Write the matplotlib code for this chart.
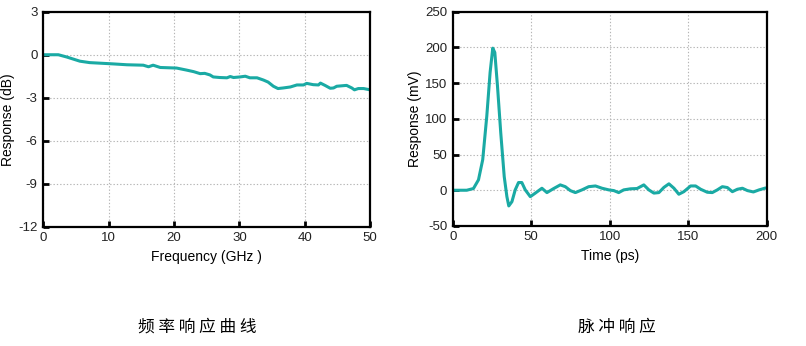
import matplotlib
matplotlib.use('Agg')
import matplotlib.pyplot as plt
import numpy as np

plt.rcParams['font.family'] = ['Liberation Sans', 'DejaVu Sans']
plt.rcParams['axes.unicode_minus'] = False

# frequency response (GHz, dB)
freq = [0, 2.3, 3.6, 5.6, 7.1, 10.7, 12.8, 15.3, 16.1, 16.8, 17.9, 20.4, 21.9, 23.0,
        24.0, 24.7, 25.5, 26.0, 27.0, 28.1, 28.6, 29.1, 30.1, 30.9, 31.6, 32.7, 33.7,
        34.4, 35.2, 35.9, 36.7, 37.8, 38.8, 39.8, 40.3, 41.3, 42.1, 42.4, 43.1, 43.9,
        44.4, 44.9, 46.4, 47.2, 47.6, 48.2, 49.0, 50.0]
resp_db = [0, 0, -0.16, -0.45, -0.55, -0.64, -0.70, -0.73, -0.84, -0.73, -0.89, -0.93,
           -1.07, -1.18, -1.32, -1.30, -1.41, -1.55, -1.59, -1.61, -1.52, -1.59, -1.55,
           -1.50, -1.61, -1.61, -1.77, -1.91, -2.20, -2.36, -2.32, -2.25, -2.11, -2.11,
           -2.00, -2.09, -2.11, -1.98, -2.14, -2.34, -2.32, -2.20, -2.14, -2.32, -2.45,
           -2.36, -2.36, -2.45]

# impulse response (ps, mV)
t_ps = [0, 8.9, 13.2, 16.4, 19.1, 21.7, 23.8, 25.5, 26.8, 28.5, 30.6, 32.8, 34.5, 35.7,
        37.7, 39.8, 41.9, 44.0, 46.2, 49.4, 52.6, 56.8, 60.0, 64.3, 68.5, 71.7, 74.9,
        78.1, 82.3, 86.6, 90.9, 95.1, 99.4, 102.6, 105.7, 108.9, 113.2, 117.4, 121.7,
        124.9, 128.1, 131.3, 134.5, 137.7, 140.9, 144.0, 147.2, 151.5, 154.7, 157.9,
        162.1, 165.3, 168.5, 171.7, 174.9, 178.1, 181.3, 184.5, 187.7, 191.5, 195.1, 198.7]
resp_mv = [0, 0, 2.4, 14.6, 42.8, 104, 165, 199, 193, 146, 80, 19, -9, -22, -16, 0.5,
           10.8, 10.8, 0.5, -9, -4, 2.8, -3.3, 2.4, 7.5, 5, -0.5, -3.3, 0.5, 5, 6, 2.8,
           0.5, -0.5, -3.3, 0.5, 2, 2.4, 7.5, 0.5, -4, -3.3, 4, 9, 2.8, -5.6, -2, 6, 6,
           1.4, -2.8, -3.3, 0.5, 5, 3.8, -2, 1.4, 2.8, -0.5, -2.4, 0.5, 2.8]

line_color = '#1aaaa4'

fig = plt.figure(figsize=(8.06, 3.46), dpi=100)
ax1 = fig.add_axes([0.0537, 0.345, 0.4055, 0.621])
ax2 = fig.add_axes([0.5617, 0.347, 0.3896, 0.619])


def style(ax):
    for s in ax.spines.values():
        s.set_linewidth(1.6)
        s.set_color('black')
    ax.grid(True, color='#b5b5b5', linestyle=(0, (1.2, 1.8)), linewidth=0.8)
    ax.tick_params(direction='in', length=4, width=2, labelsize=9.5, pad=4,
                   colors='black', labelcolor='#222222')
    ax.set_axisbelow(True)


ax1.plot(freq, resp_db, color=line_color, lw=2.2)
ax1.set_xlim(0, 50)
ax1.set_ylim(-12, 3)
ax1.set_xticks([0, 10, 20, 30, 40, 50])
ax1.set_yticks([-12, -9, -6, -3, 0, 3])
ax1.set_xlabel('Frequency (GHz )', fontsize=10, labelpad=4)
ax1.set_ylabel('Response (dB)', fontsize=10)
ax1.yaxis.set_label_coords(-0.086, 0.5)
style(ax1)

ax2.plot(t_ps, resp_mv, color=line_color, lw=2.2)
ax2.set_xlim(0, 200)
ax2.set_ylim(-50, 250)
ax2.set_xticks([0, 50, 100, 150, 200])
ax2.set_yticks([-50, 0, 50, 100, 150, 200, 250])
ax2.set_xlabel('Time (ps)', fontsize=10, labelpad=4)
ax2.set_ylabel('Response (mV)', fontsize=10)
ax2.yaxis.set_label_coords(-0.099, 0.5)
style(ax2)

cjk = ['Noto Sans CJK SC', 'DejaVu Sans']
fig.text(197 / 806, 1 - 327 / 346, '频 率 响 应 曲 线', family=cjk, fontsize=12,
         ha='center', va='center')
fig.text(617 / 806, 1 - 327 / 346, '脉 冲 响 应', family=cjk, fontsize=12,
         ha='center', va='center')

fig.savefig('out.png', dpi=100)
